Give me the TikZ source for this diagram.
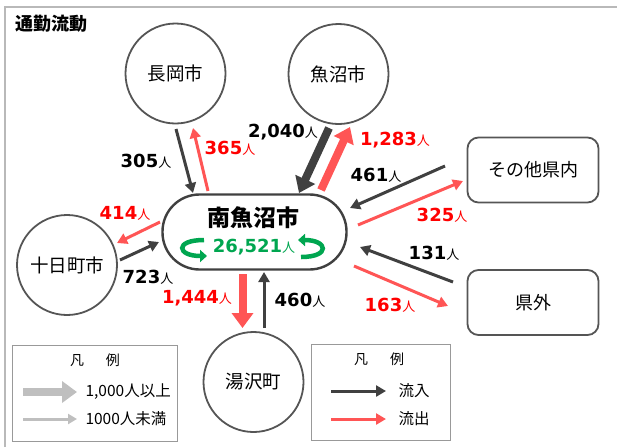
\documentclass[tikz,border=0pt]{standalone}
\usepackage{fontspec}
\setmainfont{Noto Sans CJK JP}
\newfontfamily\numfont{DejaVu Sans}
\usetikzlibrary{arrows.meta,calc,positioning}
\definecolor{indark}{RGB}{64,64,64}
\definecolor{outred}{RGB}{255,85,85}
\definecolor{numred}{RGB}{255,0,0}
\definecolor{popgreen}{RGB}{0,166,80}
\definecolor{rimgray}{RGB}{85,85,85}
\definecolor{leggray}{RGB}{191,191,191}
\definecolor{framegray}{RGB}{185,185,185}
\newcommand{\ninzu}[1]{{\numfont\bfseries\fontsize{18}{18}\selectfont #1}{\fontsize{13}{13}\selectfont 人}}
\tikzset{
        city/.style = {draw=rimgray, line width=1.8pt, circle,
            minimum size=100pt, inner sep=0pt,
            font=\fontsize{18.5}{18.5}\selectfont},
        area/.style = {draw=rimgray, line width=1.8pt, rectangle,
            rounded corners=11pt,
            minimum width=131pt, minimum height=65pt,
            font=\fontsize{18}{18}\selectfont},
        hub/.style = {draw=indark, line width=2.4pt, rectangle,
            rounded corners=37pt,
            minimum width=184pt, minimum height=75pt},
        inflow/.style = {draw=indark, line width=3pt, -{Triangle[length=10pt,width=11pt]}},
        outflow/.style = {draw=outred, line width=3pt, -{Triangle[length=10pt,width=11pt]}},
        heavy/.style = {line width=8pt, -{Triangle[length=15pt,width=21pt]}},
        loop/.style = {draw=popgreen, line width=4.5pt, -{Triangle[length=7pt,width=12pt]}},
        innum/.style = {text=black},
        outnum/.style = {text=numred},
        legbox/.style = {draw=gray!80, line width=0.8pt},
        legtext/.style = {font=\fontsize{15.5}{15.5}\selectfont, anchor=west},
    }

\begin{document}
\begin{tikzpicture}[x=1pt, y=-1pt]
    \useasboundingbox (0,0) rectangle (617,447);
    \draw[framegray, line width=2pt] (5,447) -- (5,7) -- (617,7);
    \node[font=\bfseries\fontsize{18}{18}\selectfont, anchor=west] (title) at (12,24) {通勤流動};

    % places
    \node[hub] (minami) at (254.5,232) {};
    \node[font=\bfseries\fontsize{23}{23}\selectfont] (minamiName) at (253,218) {南魚沼市};
    \node[text=popgreen] (minamiPop) at (254,247)
        {{\numfont\bfseries\fontsize{18}{18}\selectfont 26,521}{\fontsize{13}{13}\selectfont 人}};
    \node[city] (naga) at (175.5,73.5) {長岡市};
    \node[city] (uono) at (338.5,74) {魚沼市};
    \node[city] (toka) at (67,265) {十日町市};
    \node[city] (yuza) at (253.5,382) {湯沢町};
    \node[area] (kennai) at (533,170) {その他県内};
    \node[area] (kengai) at (533,302.5) {県外};

    % arrow ends
    \coordinate (a1) at (176,129);   \coordinate (a2) at (193,193);
    \coordinate (b1) at (208,191);   \coordinate (b2) at (193,128);
    \coordinate (c1) at (329,128);   \coordinate (c2) at (299,193);
    \coordinate (d1) at (321,190);   \coordinate (d2) at (350,127);
    \coordinate (e1) at (445,166);   \coordinate (e2) at (350,208);
    \coordinate (f1) at (358,225);   \coordinate (f2) at (463,181);
    \coordinate (g1) at (453,282);   \coordinate (g2) at (360,247);
    \coordinate (h1) at (354,266);   \coordinate (h2) at (448,306);
    \coordinate (i1) at (160,222);   \coordinate (i2) at (117,243);
    \coordinate (j1) at (120,260);   \coordinate (j2) at (159,242);
    \coordinate (k1) at (242.5,274); \coordinate (k2) at (242.5,328);
    \coordinate (m1) at (264,328);   \coordinate (m2) at (264,272);

    \draw[inflow] (a1) -- (a2);
    \draw[outflow] (b1) -- (b2);
    \draw[inflow, heavy] (c1) -- (c2);
    \draw[outflow, heavy] (d1) -- (d2);
    \draw[inflow] (e1) -- (e2);
    \draw[outflow] (f1) -- (f2);
    \draw[inflow] (g1) -- (g2);
    \draw[outflow] (h1) -- (h2);
    \draw[outflow] (i1) -- (i2);
    \draw[inflow] (j1) -- (j2);
    \draw[outflow, heavy] (k1) -- (k2);
    \draw[inflow] (m1) -- (m2);

    % turning arrows round the population
    \coordinate (p1) at (204,240);  \coordinate (p2) at (207,256);
    \coordinate (q1) at (301,257);  \coordinate (q2) at (298,240);
    \draw[loop] (p1) to[out=180, in=180, distance=30pt] (p2);
    \draw[loop] (q1) to[out=0, in=0, distance=30pt] (q2);

    % numbers
    \node[innum] (n305) at (146,161) {\ninzu{305}};
    \node[outnum] (n365) at (230,148) {\ninzu{365}};
    \node[innum] (n2040) at (283,132) {\ninzu{2,040}};
    \node[outnum] (n1283) at (395,140) {\ninzu{1,283}};
    \node[innum] (n461) at (376,175) {\ninzu{461}};
    \node[outnum] (n325) at (442,215) {\ninzu{325}};
    \node[innum] (n131) at (434,253) {\ninzu{131}};
    \node[outnum] (n163) at (390,305) {\ninzu{163}};
    \node[outnum] (n414) at (125,213) {\ninzu{414}};
    \node[innum] (n723) at (148,277) {\ninzu{723}};
    \node[outnum] (n1444) at (197,298) {\ninzu{1,444}};
    \node[innum] (n460) at (300,300) {\ninzu{460}};

    % legends
    \draw[legbox] (12,345) rectangle (177,441);
    \node[font=\fontsize{14}{14}\selectfont] (sizeHead) at (95,360) {凡\hspace{22pt}例};
    \coordinate (s1) at (23,392);  \coordinate (s2) at (77,392);
    \coordinate (t1) at (23,419);  \coordinate (t2) at (77,419);
    \draw[draw=leggray, line width=8pt, -{Triangle[length=15pt,width=21pt]}] (s1) -- (s2);
    \draw[draw=leggray, line width=3pt, -{Triangle[length=9pt,width=10pt]}] (t1) -- (t2);
    \node[legtext] (sizeBig) at (82,392) {1,000人以上};
    \node[legtext] (sizeSmall) at (82,419) {1000人未満};

    \draw[legbox] (311,344) rectangle (450,440);
    \node[font=\fontsize{14}{14}\selectfont] (dirHead) at (379,359) {凡\hspace{22pt}例};
    \coordinate (u1) at (331,391);  \coordinate (u2) at (386,391);
    \coordinate (v1) at (331,419);  \coordinate (v2) at (386,419);
    \draw[inflow] (u1) -- (u2);
    \draw[outflow] (v1) -- (v2);
    \node[legtext] (dirIn) at (395,391) {流入};
    \node[legtext] (dirOut) at (395,419) {流出};
\end{tikzpicture}
\end{document}
